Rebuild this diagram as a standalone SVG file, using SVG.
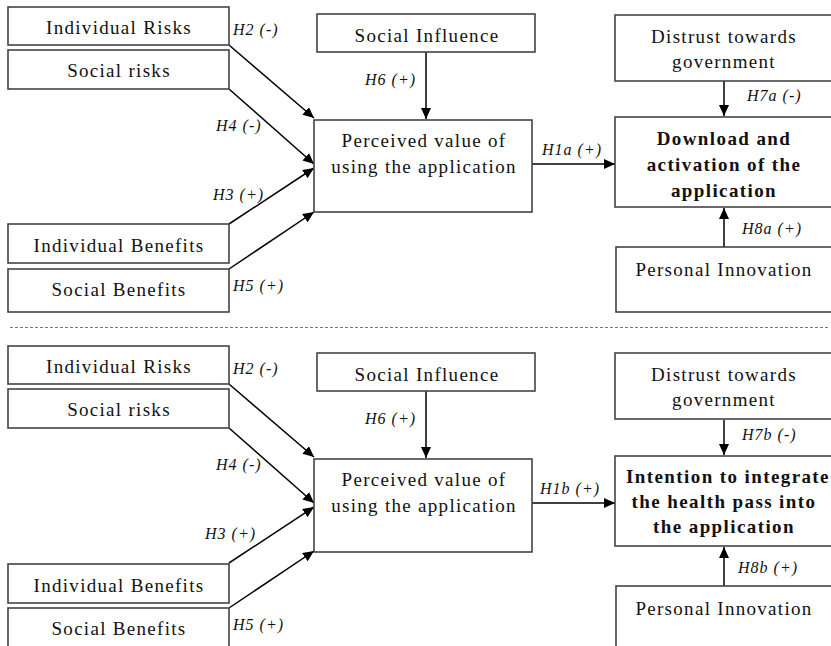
<svg xmlns="http://www.w3.org/2000/svg" width="831" height="646" viewBox="0 0 831 646">
<style>
text{font-family:'Liberation Serif','Times New Roman','DejaVu Serif',serif}
.box{fill:#fff;stroke:#444;stroke-width:1.6}
.t{font-size:19px;letter-spacing:1.3px;fill:#111;text-anchor:middle}
.b{font-size:19px;font-weight:bold;letter-spacing:1.4px;fill:#111;text-anchor:middle}
.l{font-size:16px;font-style:italic;letter-spacing:1px;fill:#111}
.c{stroke:#000;stroke-width:1.5;fill:none;marker-end:url(#ah)}
</style>
<defs>
<marker id="ah" markerUnits="userSpaceOnUse" markerWidth="12" markerHeight="10" refX="11" refY="5" orient="auto">
<path d="M0,0 L11,5 L0,10 Z" fill="#000"/>
</marker>
</defs>
<rect width="831" height="646" fill="#fff"/>
<line x1="10" y1="327.5" x2="829" y2="327.5" stroke="#777" stroke-width="1" stroke-dasharray="3,2"/>

<g id="top">
<g id="connectors-top">
<line class="c" x1="229" y1="45" x2="314" y2="118"/>
<line class="c" x1="229" y1="89" x2="314" y2="164"/>
<line class="c" x1="229" y1="224" x2="314" y2="168"/>
<line class="c" x1="229" y1="269" x2="314" y2="212"/>
<line class="c" x1="426" y1="52" x2="426" y2="119"/>
<line class="c" x1="532" y1="164" x2="615" y2="164"/>
<line class="c" x1="724" y1="81" x2="724" y2="116"/>
<line class="c" x1="724" y1="247" x2="724" y2="208"/>
<text class="l" x="233" y="35">H2 (-)</text>
<text class="l" x="216" y="131">H4 (-)</text>
<text class="l" x="213" y="200">H3 (+)</text>
<text class="l" x="233" y="291">H5 (+)</text>
<text class="l" x="365" y="85">H6 (+)</text>
<text class="l" x="542" y="155">H1a (+)</text>
<text class="l" x="747" y="101">H7a (-)</text>
<text class="l" x="742" y="234">H8a (+)</text>
</g>
<g id="ir1"><rect class="box" x="8" y="7" width="221" height="38"/><text class="t" x="119" y="34">Individual Risks</text></g>
<g id="sr1"><rect class="box" x="8" y="50" width="221" height="39"/><text class="t" x="119" y="77">Social risks</text></g>
<g id="ib1"><rect class="box" x="8" y="224" width="221" height="39"/><text class="t" x="119" y="252">Individual Benefits</text></g>
<g id="sb1"><rect class="box" x="8" y="269" width="221" height="43"/><text class="t" x="119" y="296">Social Benefits</text></g>
<g id="si1"><rect class="box" x="317" y="14" width="218" height="38"/><text class="t" x="427" y="42">Social Influence</text></g>
<g id="pv1"><rect class="box" x="314" y="120" width="218" height="92"/><text class="t" x="424" y="147">Perceived value of</text><text class="t" x="424" y="173">using the application</text></g>
<g id="dg1"><rect class="box" x="615" y="15" width="230" height="66"/><text class="t" x="724" y="43">Distrust towards</text><text class="t" x="724" y="68">government</text></g>
<g id="da1"><rect class="box" x="615" y="117" width="230" height="90"/><text class="b" x="724" y="145">Download and</text><text class="b" x="724" y="171">activation of the</text><text class="b" x="724" y="197">application</text></g>
<g id="pi1"><rect class="box" x="616" y="247" width="230" height="65"/><text class="t" x="724" y="276">Personal Innovation</text></g>
</g>

<g id="bottom" transform="translate(0,339)">
<g id="connectors-bottom">
<line class="c" x1="229" y1="45" x2="314" y2="118"/>
<line class="c" x1="229" y1="89" x2="314" y2="164"/>
<line class="c" x1="229" y1="224" x2="314" y2="168"/>
<line class="c" x1="229" y1="269" x2="314" y2="212"/>
<line class="c" x1="426" y1="52" x2="426" y2="119"/>
<line class="c" x1="532" y1="164" x2="615" y2="164"/>
<line class="c" x1="724" y1="81" x2="724" y2="116"/>
<line class="c" x1="724" y1="247" x2="724" y2="208"/>
<text class="l" x="233" y="35">H2 (-)</text>
<text class="l" x="216" y="131">H4 (-)</text>
<text class="l" x="205" y="200">H3 (+)</text>
<text class="l" x="233" y="291">H5 (+)</text>
<text class="l" x="365" y="85">H6 (+)</text>
<text class="l" x="540" y="155">H1b (+)</text>
<text class="l" x="742" y="101">H7b (-)</text>
<text class="l" x="738" y="234">H8b (+)</text>
</g>
<g id="ir2"><rect class="box" x="8" y="7" width="221" height="38"/><text class="t" x="119" y="34">Individual Risks</text></g>
<g id="sr2"><rect class="box" x="8" y="50" width="221" height="39"/><text class="t" x="119" y="77">Social risks</text></g>
<g id="ib2"><rect class="box" x="8" y="225" width="221" height="39"/><text class="t" x="119" y="253">Individual Benefits</text></g>
<g id="sb2"><rect class="box" x="8" y="269" width="221" height="43"/><text class="t" x="119" y="296">Social Benefits</text></g>
<g id="si2"><rect class="box" x="317" y="14" width="218" height="38"/><text class="t" x="427" y="42">Social Influence</text></g>
<g id="pv2"><rect class="box" x="314" y="120" width="218" height="93"/><text class="t" x="424" y="147">Perceived value of</text><text class="t" x="424" y="173">using the application</text></g>
<g id="dg2"><rect class="box" x="615" y="14" width="230" height="66"/><text class="t" x="724" y="42">Distrust towards</text><text class="t" x="724" y="67">government</text></g>
<g id="it2"><rect class="box" x="615" y="117" width="230" height="90"/><text class="b" x="728" y="144">Intention to integrate</text><text class="b" x="724" y="169">the health pass into</text><text class="b" x="724" y="194">the application</text></g>
<g id="pi2"><rect class="box" x="616" y="247" width="230" height="65"/><text class="t" x="724" y="276">Personal Innovation</text></g>
</g>
</svg>
